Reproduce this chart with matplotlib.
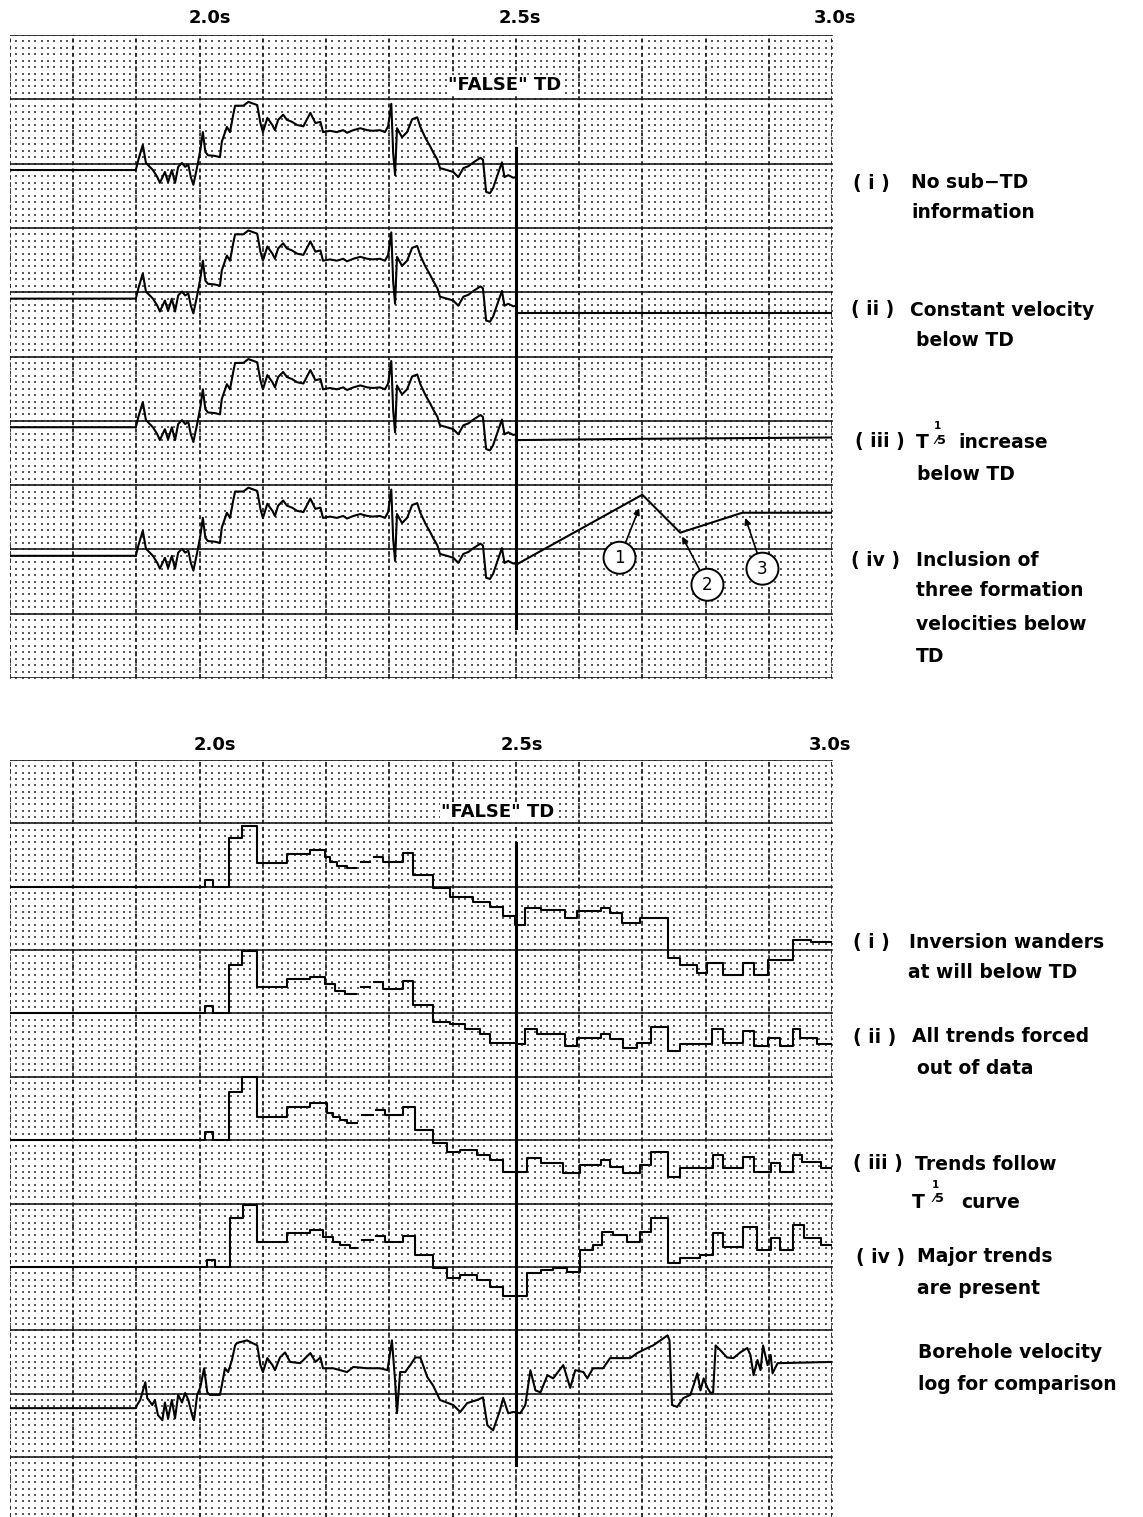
import numpy as np
import matplotlib
matplotlib.use("Agg")
import matplotlib.pyplot as plt

W, H = 1143, 1517
plt.rcParams['font.family'] = ['DejaVu Sans']

# ---------------- data ----------------
# input velocity log above the false TD (time in s, deflection in minor divisions)
log_t = [1.700, 1.899, 1.903, 1.910, 1.915, 1.926, 1.933, 1.937, 1.945, 1.950, 1.956, 1.961,
         1.966, 1.972, 1.977, 1.982, 1.986, 1.990, 1.996, 2.001, 2.005, 2.009, 2.013, 2.024,
         2.032, 2.035, 2.043, 2.048, 2.053, 2.056, 2.069, 2.077, 2.091, 2.096, 2.100, 2.107,
         2.115, 2.119, 2.124, 2.132, 2.138, 2.146, 2.154, 2.164, 2.175, 2.183, 2.191, 2.195,
         2.206, 2.217, 2.227, 2.233, 2.243, 2.254, 2.265, 2.274, 2.285, 2.293, 2.298, 2.303,
         2.306, 2.309, 2.312, 2.320, 2.328, 2.336, 2.344, 2.349, 2.357, 2.365, 2.369, 2.376,
         2.380, 2.391, 2.401, 2.409, 2.417, 2.425, 2.433, 2.444, 2.448, 2.453, 2.459, 2.464,
         2.472, 2.478, 2.482, 2.488, 2.496, 2.500]
log_d = [0, 0, 1.6, 3.9, 1.1, 0, -1.1, -2.0, -0.3, -1.9, 0, -2.0,
         0.5, 1.1, 0.5, 0.8, -1.1, -2.3, 0.5, 3.1, 5.9, 2.8, 2.3, 2.2,
         2.0, 4.4, 6.7, 5.9, 8.6, 10.0, 10.0, 10.6, 10.1, 7.3, 5.9, 8.1,
         7.0, 6.2, 7.8, 8.6, 7.8, 7.5, 7.0, 6.8, 8.9, 7.3, 7.5, 5.9,
         6.1, 5.9, 6.2, 5.8, 6.2, 6.5, 6.2, 6.1, 6.2, 5.9, 6.8, 10.3,
         2.6, -0.8, 6.5, 5.1, 5.9, 7.9, 8.2, 6.7, 5.0, 3.6, 2.8, 1.6,
         0.3, 0, -0.3, -1.1, 0.3, 0.6, 1.2, 1.9, 1.6, -3.4, -3.6, -2.8,
         -0.5, 1.2, -1.1, -0.8, -1.2, -1.1]

# below TD, top panel
const_t = [2.5, 3.0]
const_d = [-2.2, -2.2]
t15_t = [2.5, 2.7, 3.0]
t15_d = [-2.0, -1.8, -1.6]
three_t = [2.5, 2.70, 2.76, 2.858, 3.0]
three_d = [-1.4, 9.5, 3.6, 6.7, 6.7]

nan = np.nan
# inversion results (layer boundaries in s, layer level in minor divisions)
inv1_edges = [1.700, 2.009, 2.021, 2.047, 2.067, 2.091, 2.138, 2.175, 2.198, 2.206, 2.217, 2.233,
              2.247, 2.255, 2.270, 2.276, 2.290, 2.322, 2.338, 2.369, 2.396, 2.433, 2.459, 2.480,
              2.499, 2.515, 2.539, 2.578, 2.597, 2.634, 2.649, 2.668, 2.697, 2.740, 2.760, 2.787,
              2.803, 2.827, 2.860, 2.876, 2.899, 2.939, 2.966, 3.000]
inv1_vals = [0, 1.1, 0, 7.7, 9.6, 3.8, 5.2, 5.8, 4.7, 3.9, 3.3, 3.0,
             nan, 3.9, nan, 4.7, 3.9, 5.4, 1.9, -0.2, -1.6, -2.4, -3.2, -4.7,
             -6.0, -3.3, -3.6, -5.0, -3.8, -3.3, -4.1, -5.7, -4.9, -11.2, -12.3, -13.6,
             -12.0, -13.9, -12.0, -13.9, -11.5, -8.4, -8.8]

inv2_edges = [1.700, 2.009, 2.021, 2.047, 2.067, 2.091, 2.138, 2.175, 2.198, 2.214, 2.230, 2.247,
              2.255, 2.270, 2.276, 2.290, 2.322, 2.338, 2.369, 2.396, 2.420, 2.444, 2.459, 2.502,
              2.515, 2.534, 2.578, 2.597, 2.634, 2.649, 2.670, 2.692, 2.713, 2.740, 2.760, 2.811,
              2.828, 2.860, 2.876, 2.898, 2.918, 2.939, 2.950, 2.977, 3.000]
inv2_vals = [0, 1.1, 0, 7.7, 9.8, 4.1, 5.4, 5.7, 4.6, 3.5, 3.0, nan,
             4.1, nan, 4.9, 3.8, 5.1, 1.4, -1.4, -1.7, -2.5, -3.3, -4.6, -4.9,
             -2.5, -3.3, -5.2, -3.8, -3.3, -4.1, -5.4, -4.6, -2.1, -6.0, -4.9, -2.5,
             -4.6, -2.8, -5.2, -3.8, -5.2, -2.5, -3.8, -4.9]

inv3_edges = [1.700, 2.009, 2.021, 2.047, 2.067, 2.091, 2.138, 2.175, 2.202, 2.211, 2.222, 2.233,
              2.249, 2.257, 2.274, 2.279, 2.293, 2.322, 2.341, 2.369, 2.391, 2.412, 2.439, 2.459,
              2.480, 2.518, 2.539, 2.575, 2.602, 2.634, 2.649, 2.670, 2.697, 2.713, 2.740, 2.760,
              2.812, 2.828, 2.860, 2.876, 2.903, 2.918, 2.939, 2.953, 2.982, 3.000]
inv3_vals = [0, 1.3, 0, 7.6, 9.9, 3.6, 5.2, 5.8, 4.3, 3.6, 3.2, 2.7,
             nan, 3.9, nan, 4.7, 3.9, 5.2, 1.6, -0.5, -1.9, -1.6, -2.4, -3.2,
             -5.1, -2.8, -3.6, -5.2, -3.9, -3.2, -4.3, -5.2, -3.9, -1.9, -5.8, -4.4,
             -2.4, -4.4, -2.7, -5.1, -3.6, -5.1, -2.4, -3.5, -4.4]

inv4_edges = [1.700, 2.012, 2.024, 2.048, 2.069, 2.091, 2.138, 2.175, 2.195, 2.211, 2.222, 2.238,
              2.249, 2.257, 2.274, 2.279, 2.293, 2.322, 2.341, 2.369, 2.391, 2.412, 2.439, 2.459,
              2.480, 2.518, 2.539, 2.559, 2.581, 2.602, 2.622, 2.637, 2.654, 2.676, 2.697, 2.713,
              2.741, 2.760, 2.792, 2.812, 2.828, 2.860, 2.882, 2.903, 2.918, 2.939, 2.955, 2.982,
              3.000]
inv4_vals = [0, 1.1, 0, 7.7, 9.8, 3.9, 5.4, 5.8, 4.7, 3.9, 3.5, 3.0,
             nan, 4.3, nan, 4.9, 3.9, 4.9, 1.9, -0.2, -1.7, -1.3, -2.1, -3.2,
             -4.6, -0.9, -0.5, -0.2, -0.8, 2.7, 3.5, 5.5, 5.1, 3.9, 5.5, 7.7,
             0.6, 1.4, 1.9, 5.4, 3.2, 6.3, 2.7, 4.6, 2.7, 6.6, 4.6, 3.5]

# borehole velocity log for comparison
bh_t = [1.700, 1.899, 1.901, 1.906, 1.914, 1.917, 1.925, 1.929, 1.934, 1.941, 1.945, 1.950,
        1.956, 1.961, 1.966, 1.972, 1.977, 1.982, 1.988, 1.991, 1.996, 2.001, 2.007, 2.012,
        2.016, 2.032, 2.035, 2.040, 2.045, 2.051, 2.056, 2.059, 2.075, 2.091, 2.096, 2.100,
        2.107, 2.115, 2.119, 2.127, 2.135, 2.143, 2.159, 2.175, 2.183, 2.191, 2.195, 2.211,
        2.233, 2.243, 2.265, 2.285, 2.297, 2.304, 2.309, 2.312, 2.317, 2.325, 2.333, 2.341,
        2.349, 2.360, 2.369, 2.380, 2.401, 2.412, 2.423, 2.439, 2.448, 2.455, 2.464, 2.475,
        2.480, 2.488, 2.496, 2.507, 2.515, 2.523, 2.531, 2.539, 2.550, 2.559, 2.575, 2.586,
        2.594, 2.607, 2.613, 2.622, 2.638, 2.649, 2.665, 2.681, 2.692, 2.708, 2.717, 2.733,
        2.740, 2.743, 2.747, 2.755, 2.765, 2.776, 2.781, 2.787, 2.792, 2.797, 2.803, 2.808,
        2.812, 2.816, 2.823, 2.834, 2.844, 2.855, 2.866, 2.871, 2.876, 2.882, 2.887, 2.891,
        2.898, 2.903, 2.906, 2.914, 3.000]
bh_d = [0, 0, 0.5, 1.3, 4.1, 1.6, 0.5, 1.3, -1.1, -1.9, 0.9, -1.6,
        1.3, -1.6, 2.1, 0.9, 2.4, 1.3, -1.1, -1.9, 2.1, 3.3, 6.3, 2.5,
        2.1, 2.1, 3.6, 6.3, 5.7, 7.6, 9.9, 10.3, 10.7, 9.9, 6.8, 5.7,
        7.9, 6.8, 6.0, 8.0, 8.8, 7.3, 7.1, 8.7, 7.3, 8.0, 6.3, 6.3,
        5.7, 6.5, 6.3, 6.3, 6.0, 10.7, 4.4, -0.8, 5.7, 5.7, 6.8, 8.0,
        8.0, 4.9, 3.6, 1.3, 0.5, -0.6, 0.8, 1.3, 1.7, -2.7, -3.5, -0.3,
        1.6, -0.8, -0.6, -0.8, 0.5, 6.0, 2.8, 2.5, 5.2, 4.7, 6.8, 3.2,
        6.0, 5.7, 4.7, 6.3, 6.3, 7.9, 7.9, 7.9, 8.7, 9.5, 9.9, 11.0,
        11.5, 10.7, 0.5, 0.2, 1.6, 2.1, 3.6, 5.5, 2.8, 4.7, 3.2, 2.4,
        2.5, 9.9, 9.2, 8.0, 7.9, 8.8, 9.5, 8.4, 5.2, 7.6, 6.0, 9.9,
        6.8, 8.4, 5.5, 7.1, 7.3]

top_bases = [2.1, 4.1, 6.1, 8.1]
bot_bases = [2.0, 4.0, 6.0, 8.0]
bh_base = 10.23

# ---------------- figure ----------------
fig = plt.figure(figsize=(W / 100, H / 100), dpi=100)
fig.patch.set_facecolor('white')


def px(x, y):
    return x / W, 1 - y / H


ax1 = fig.add_axes([10 / W, 1 - 678 / H, 822 / W, 643 / H])
ax2 = fig.add_axes([10 / W, 0, 822 / W, 757 / H])
ax1.set_ylim(10, 0)
ax2.set_ylim(757 / 63.36, 0)


def chart_paper(ax, nrows):
    # dotted recorder paper: minor dots every 0.01 s, dashed verticals every 0.1 s
    ax.set_xlim(1.7, 3.0)
    ax.axis('off')
    tt = np.arange(170, 301) / 100
    yy = np.arange(0, nrows + 1) / 10
    gx, gy = np.meshgrid(tt, yy)
    ax.scatter(gx.ravel(), gy.ravel(), s=2.2, c='#5a5a5a', marker='s',
               linewidths=0, zorder=1)
    for t in np.arange(17, 31) / 10:
        ax.axvline(t, color='#222222', lw=1.3, ls=(0, (2.2, 1.8)), zorder=2)
    for k in range(0, nrows // 10 + 1):
        ax.axhline(k, color='#1a1a1a', lw=1.2, zorder=2)


chart_paper(ax1, 100)
chart_paper(ax2, 119)

lw_tr = 1.5
# top panel traces
for b in top_bases:
    ax1.plot(log_t, b - np.array(log_d) / 10, color='black', lw=lw_tr, zorder=4)
ax1.plot(const_t, top_bases[1] - np.array(const_d) / 10, color='black', lw=lw_tr, zorder=4)
ax1.plot(t15_t, top_bases[2] - np.array(t15_d) / 10, color='black', lw=lw_tr, zorder=4)
ax1.plot(three_t, top_bases[3] - np.array(three_d) / 10, color='black', lw=lw_tr, zorder=4)
ax1.plot([2.5, 2.5], [1.76, 9.22], color='black', lw=2.2, zorder=5)

# numbered formation velocities
circ = dict(boxstyle='circle,pad=0.42', fc='white', ec='black', lw=1.4)
arr = dict(arrowstyle='-|>', color='black', lw=1.2, mutation_scale=9, shrinkA=0, shrinkB=0)
for lab, tip, cen in [('1', (2.695, 7.36), (2.664, 8.13)),
                      ('2', (2.763, 7.80), (2.803, 8.55)),
                      ('3', (2.863, 7.51), (2.890, 8.30))]:
    ax1.annotate(lab, xy=tip, xytext=cen, ha='center', va='center', fontsize=12,
                 bbox=circ, arrowprops=arr, zorder=6)

# bottom panel traces
for edges, vals, b in [(inv1_edges, inv1_vals, bot_bases[0]), (inv2_edges, inv2_vals, bot_bases[1]),
                       (inv3_edges, inv3_vals, bot_bases[2]), (inv4_edges, inv4_vals, bot_bases[3])]:
    v = np.array(vals + [vals[-1]], dtype=float)
    ax2.plot(edges, b - v / 10, drawstyle='steps-post', color='black', lw=lw_tr, zorder=4)
ax2.plot(bh_t, bh_base - np.array(bh_d) / 10, color='black', lw=lw_tr, zorder=4)
ax2.plot([2.5, 2.5], [1.31, 11.13], color='black', lw=2.2, zorder=5)

# time labels and false TD
for ys, xs in [(18, [2.016, 2.507, 3.005]), (745, [2.024, 2.510, 2.997])]:
    for t, s in zip(xs, ['2.0s', '2.5s', '3.0s']):
        fig.text(*px(10 + (t - 1.7) * 632, ys), s, ha='center', va='center',
                 fontsize=13, fontweight='bold')
for ax, t, y in [(ax1, 2.483, 0.78), (ax2, 2.471, 0.82)]:
    ax.text(t, y, '"FALSE" TD', ha='center', va='center', fontsize=13, fontweight='bold',
            zorder=6, bbox=dict(fc='white', ec='none', pad=0.5))

# right-hand captions
fs = 13.5
labels = [("( i )", 853, 183), ("No sub−TD", 911, 183), ("information", 911, 213),
          ("( ii )", 851, 310), ("Constant velocity", 910, 310), ("below TD", 916, 341),
          ("( iii )", 855, 442), ("T", 916, 443), ("increase", 958, 443), ("below TD", 917, 475),
          ("( iv )", 851, 560), ("Inclusion of", 916, 560), ("three formation", 916, 591),
          ("velocities below", 916, 625), ("TD", 916, 656),
          ("( i )", 853, 942), ("Inversion wanders", 909, 942), ("at will below TD", 908, 973),
          ("( ii )", 853, 1037), ("All trends forced", 912, 1037), ("out of data", 917, 1068),
          ("( iii )", 853, 1164), ("Trends follow", 915, 1164), ("T", 912, 1202),
          ("curve", 961, 1202),
          ("( iv )", 856, 1257), ("Major trends", 917, 1257), ("are present", 917, 1288),
          ("Borehole velocity", 918, 1353), ("log for comparison", 918, 1384)]
for s, x, y in labels:
    fig.text(*px(x, y), s, ha='left', va='center', fontsize=fs, fontweight='bold')
# T^(1/5) exponents
for x, y in [(931, 443), (929, 1202)]:
    fig.text(*px(x + 3, y - 17), '1', ha='left', va='center', fontsize=7.5, fontweight='bold')
    fig.text(*px(x + 4, y - 3), '⁄5', ha='left', va='center', fontsize=9, fontweight='bold')

fig.savefig('out.png', dpi=100, facecolor='white')
